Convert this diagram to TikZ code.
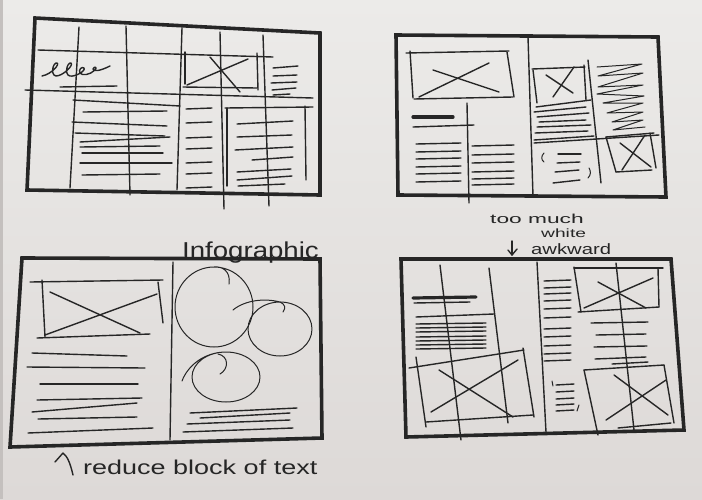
\documentclass[tikz,border=0pt]{standalone}
\usepackage{fontspec}
\setmainfont{Liberation Sans}
\definecolor{ink}{HTML}{262626}
\definecolor{papertop}{HTML}{ECEBE9}
\definecolor{paperbot}{HTML}{DDD9D7}
\definecolor{paperedge}{HTML}{C4C0BE}
\tikzset{
  frame/.style={draw=ink, line width=3.6pt, line join=miter},
  pen/.style={draw=ink, line width=1.4pt, line cap=round, line join=round},
  fine/.style={pen, line width=1pt},
  heavy/.style={pen, line width=3.2pt},
  hand/.style={text=ink, inner sep=0pt, anchor=base west}
}
\begin{document}
\begin{tikzpicture}[x=1pt,y=-1pt]
\useasboundingbox (0,0) rectangle (702,499);
% paper
\shade[top color=papertop, bottom color=paperbot] (0,0) rectangle (702,499);
\fill[paperedge] (0,0) rectangle (2.5,499);

% ---------------- layout 1: grid page ----------------
\draw[frame] (35,18) -- (320,33) -- (320,195) -- (27,190) -- cycle;
% grid columns
\draw[pen] (79,27) -- (70,188);
\draw[pen] (126,26) -- (130,195);
\draw[pen] (182,28) -- (177,190);
\draw[pen] (220,32) -- (224,209);
\draw[pen] (263,35) -- (269,206);
% grid rows
\draw[pen] (38,50) -- (273,57);
\draw[pen] (25,90) -- (313,98);
% headline squiggle
\draw[pen] (42,76) .. controls (52,74) and (60,64) .. (57,63)
  .. controls (53,62) and (50,75) .. (56,76)
  .. controls (63,76) and (74,65) .. (71,63)
  .. controls (67,62) and (64,75) .. (70,76)
  .. controls (75,77) and (86,71) .. (84,68)
  .. controls (82,66) and (78,70) .. (80,73)
  .. controls (82,76) and (90,75) .. (95,70)
  .. controls (98,67) and (94,66) .. (93,69)
  .. controls (93,72) and (100,71) .. (110,66);
\draw[pen] (60,87) -- (117,86);
% picture box
\draw[pen] (185,52) -- (185,84);
\draw[pen] (183,87) -- (257,88);
\draw[pen] (257,53) -- (258,90);
\draw[pen] (210,57) -- (240,92);
\draw[pen] (248,59) -- (187,85);
% caption lines beside picture
\draw[pen] (273,68) -- (298,66);
\draw[pen] (273,76) -- (297,75);
\draw[pen] (271,83) -- (297,82);
\draw[pen] (272,90) -- (296,88);
\draw[pen] (273,95) -- (290,94);
% body text
\draw[pen] (73,100) -- (180,106);
\draw[pen] (83,112) -- (167,111);
\draw[pen] (72,122) -- (167,126);
\draw[pen] (75,133) -- (165,136);
\draw[pen] (80,142) -- (170,137);
\draw[pen] (80,147) -- (160,146);
\draw[pen] (82,153) -- (163,153);
\draw[pen] (80,163) -- (172,163);
\draw[pen] (82,175) -- (160,174);
% narrow column
\foreach \y in {108,122,137,148,162,173,187}
  \draw[pen] (186,\y+1) -- (212,\y);
% sidebar box
\draw[pen] (227,108) -- (227,186);
\draw[pen] (225,108) -- (313,107);
\draw[pen] (305,106) -- (306,180);
\draw[pen] (237,124) -- (293,121);
\draw[pen] (237,137) -- (292,135);
\draw[pen] (235,150) -- (293,147);
\draw[pen] (252,160) -- (293,157);
\draw[pen] (237,172) -- (291,169);
\draw[pen] (237,180) -- (292,176);
\draw[pen] (238,186) -- (285,184);

% ---------------- layout 2: two-page spread ----------------
\draw[frame] (396,35) -- (658,37) -- (666,197) -- (398,195) -- cycle;
\draw[pen] (528,37) -- (533,196);
% left page picture
\draw[pen] (406,53) -- (509,51);
\draw[pen] (410,51) -- (413,98);
\draw[pen] (507,52) -- (514,97);
\draw[pen] (414,99) -- (513,97);
\draw[pen] (433,70) -- (499,92);
\draw[pen] (419,97) -- (489,63);
\draw[pen] (467,103) -- (469,203);
% headline and body
\draw[heavy] (413,117) -- (453,117);
\draw[pen] (413,127) -- (474,125);
\foreach \y in {144,152,159,167,174,182}
  \draw[pen] (416,\y) -- (461,\y-1);
\foreach \y in {146,155,163,172,179,185}
  \draw[pen] (472,\y) -- (514,\y-1);
% right page
\draw[pen] (533,70) -- (537,103);
\draw[pen] (532,69) -- (585,67);
\draw[pen] (584,65) -- (586,100);
\draw[pen] (546,75) -- (573,93);
\draw[pen] (574,67) -- (553,97);
\draw[pen] (588,60) -- (601,183);
\draw[fine] (597,67) -- (642,64) -- (598,76) -- (643,73) -- (598,87) -- (643,85)
  -- (597,94) -- (644,96) -- (603,103) -- (643,103) -- (607,113) -- (643,112)
  -- (612,122) -- (643,120) -- (613,130) -- (645,127);
\draw[pen] (536,107) -- (591,100);
\draw[pen] (534,112) -- (586,107);
\draw[pen] (537,117) -- (589,113);
\draw[pen] (539,122) -- (586,120);
\draw[pen] (537,127) -- (591,125);
\draw[pen] (535,133) -- (588,131);
\draw[pen] (534,140) -- (594,136);
\draw[pen] (534,143) -- (659,135);
% small picture
\draw[pen] (606,137) -- (654,133);
\draw[pen] (606,137) -- (616,172);
\draw[pen] (650,133) -- (656,168);
\draw[pen] (616,172) -- (652,170);
\draw[pen] (620,143) -- (651,167);
\draw[pen] (645,135) -- (622,170);
% pull quote
\draw[pen] (558,154) -- (581,154);
\draw[pen] (557,163) -- (580,162);
\draw[pen] (555,172) -- (579,170);
\draw[pen] (553,183) -- (580,180);
\draw[fine] (544,153) .. controls (541,156) and (541,160) .. (544,162);
\draw[fine] (589,168) .. controls (591,171) and (591,175) .. (588,178);

% notes between the right-hand layouts
\node[hand] (toomuch) at (490,223) {\scalebox{1.75}[1]{\fontsize{13}{13}\selectfont too much}};
\node[hand] (white) at (541,237) {\scalebox{1.6}[1]{\fontsize{12}{12}\selectfont white}};
\node[hand] (awkward) at (531,254) {\scalebox{1.35}[1]{\fontsize{15}{15}\selectfont awkward}};
\draw[pen] (512,241) -- (512,255);
\draw[pen] (508,250) -- (512,255) -- (517,249);

% ---------------- layout 3: infographic spread ----------------
\draw[frame] (22,258) -- (320,259) -- (322,438) -- (10,447) -- cycle;
\draw[pen] (173,262) -- (170,440);
% picture
\draw[pen] (30,282) -- (163,280);
\draw[pen] (42,280) -- (45,337);
\draw[pen] (158,282) -- (163,323);
\draw[pen] (37,338) -- (150,334);
\draw[pen] (50,292) -- (140,333);
\draw[pen] (45,335) -- (157,294);
% body text
\draw[pen] (32,353) -- (127,356);
\draw[pen] (27,367) -- (145,368);
\draw[pen] (40,384) -- (138,384);
\draw[pen] (37,400) -- (142,398);
\draw[pen] (32,412) -- (137,403);
\draw[pen] (38,419) -- (137,417);
\draw[pen] (28,433) -- (153,428);
% infographic bubbles
\draw[fine] (229,284) .. controls (231,271) and (222,266) .. (214,267)
  arc[start angle=-90, end angle=270, x radius=39, y radius=40];
\draw[fine] (233,310) .. controls (245,300) and (265,298) .. (280,302)
  arc[start angle=-90, end angle=270, x radius=32, y radius=27];
\draw[fine] (283,312) .. controls (286,308) and (285,304) .. (280,302);
\draw[fine] (182,381) .. controls (188,365) and (205,352) .. (226,352)
  arc[start angle=-90, end angle=270, x radius=34, y radius=25];
\draw[fine] (220,374) .. controls (229,369) and (229,356) .. (218,354);
% text under bubbles
\draw[pen] (190,413) -- (297,408);
\draw[pen] (200,418) -- (290,413);
\draw[pen] (187,424) -- (290,420);
\draw[pen] (183,432) -- (293,428);
% notes
\node[hand] (infographic) at (182,258) {\scalebox{1.2}[1]{\fontsize{23}{23}\selectfont Infographic}};
\draw[pen] (73,475) .. controls (70,462) and (67,456) .. (63,453) -- (55,462);
\node[hand] (reduce) at (83,474) {\scalebox{1.35}[1]{\fontsize{20}{20}\selectfont reduce block of text}};

% ---------------- layout 4: spread with two pictures ----------------
\draw[frame] (401,259) -- (671,259) -- (684,430) -- (406,437) -- cycle;
\draw[pen] (537,262) -- (546,432);
% left page grid
\draw[pen] (440,265) -- (461,440);
\draw[pen] (489,268) -- (508,423);
\draw[heavy] (413,298) -- (476,297);
\draw[pen] (414,303) -- (470,302);
\draw[pen] (416,317) -- (494,314);
\foreach \y in {323,327,331,336,340,344,348}
  \draw[pen] (416,\y+1) -- (486,\y);
% left page picture
\draw[pen] (409,368) -- (524,350);
\draw[pen] (416,357) -- (426,427);
\draw[pen] (523,348) -- (534,417);
\draw[pen] (426,422) -- (533,415);
\draw[pen] (439,370) -- (513,417);
\draw[pen] (518,360) -- (431,412);
% right page
\foreach \y in {280,287,293,300,308,317,328,336,345,353,360}
  \draw[pen] (544,\y+1) -- (571,\y);
\foreach \y in {384,391,398,404,410}
  \draw[pen] (556,\y+1) -- (574,\y);
\draw[fine] (552,381) -- (553,386);
\draw[fine] (579,405) -- (577,411);
% top picture
\draw[pen] (574,268) -- (663,268);
\draw[pen] (574,267) -- (581,312);
\draw[pen] (658,268) -- (659,307);
\draw[pen] (578,312) -- (659,307);
\draw[pen] (584,308) -- (653,278);
\draw[pen] (598,282) -- (646,308);
\draw[pen] (616,263) -- (634,430);
\draw[pen] (584,370) -- (598,435);
\draw[pen] (591,323) -- (648,322);
\draw[pen] (596,335) -- (646,334);
\draw[pen] (594,347) -- (647,346);
\draw[pen] (595,359) -- (646,357);
\draw[pen] (612,364) -- (648,362);
% bottom picture
\draw[pen] (584,370) -- (664,365);
\draw[pen] (664,365) -- (674,423);
\draw[pen] (618,428) -- (671,423);
\draw[pen] (606,420) -- (666,380);
\draw[pen] (614,375) -- (668,415);
\end{tikzpicture}
\end{document}
